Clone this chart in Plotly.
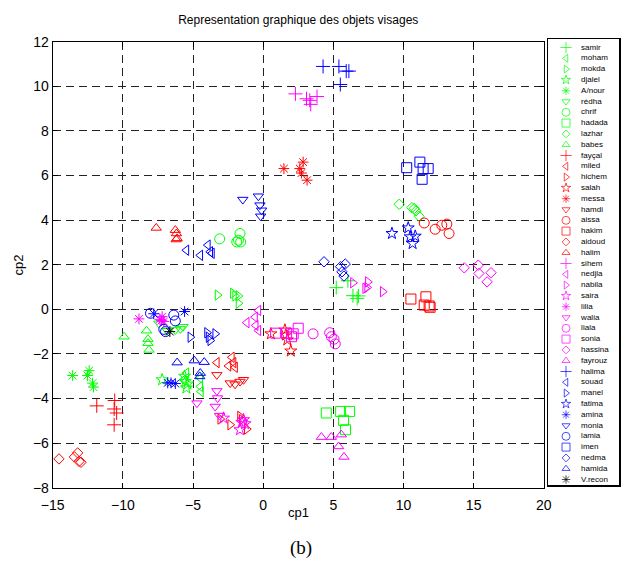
import plotly.graph_objects as go

# ---------------- data (cp1, cp2) ----------------
names = ["samir", "moham", "mokda", "djalel", "A/nour", "rédha", "chrif", "hadada", "lazhar", "babes",
         "fayçal", "miled", "hichem", "salah", "messa", "hamdi", "aissa", "hakim", "aidoud", "halim",
         "sihem", "nedjla", "nabila", "saira", "lilia", "walia", "liala", "sonia", "hassina", "fayrouz",
         "halima", "souad", "manel", "fatima", "amina", "monia", "lamia", "imen", "nedma", "hamida",
         "V.recon"]

# green group
samir_cp1 = [5.21, 6.04, 6.40, 6.70, 6.79];        samir_cp2 = [0.97, 1.28, 0.61, 0.49, 0.60]
moham_cp1 = [-5.47, -5.66, -4.48, -4.48, -4.43];   moham_cp2 = [-2.86, -3.16, -3.09, -3.46, -3.69]
mokda_cp1 = [-3.25, -2.16, -2.00, -1.76, -1.76];   mokda_cp2 = [0.64, 0.72, 0.60, 0.60, 0.27]
djalel_cp1 = [-7.20, -5.60, -5.55, -5.47, -5.40];  djalel_cp2 = [-3.16, -3.00, -3.24, -3.53, -3.35]
anour_cp1 = [-13.58, -12.40, -12.52, -12.16, -12.09]; anour_cp2 = [-2.97, -2.75, -2.97, -3.31, -3.49]
redha_cp1 = [-7.43, -6.84, -6.26, -5.90, -5.71];   redha_cp2 = [-0.63, -0.96, -0.93, -0.88, -0.78]
chrif_cp1 = [-3.10, -1.65, -1.88, -1.76, -1.60];   chrif_cp2 = [3.16, 3.40, 3.02, 3.10, 3.02]
hadada_cp1 = [4.50, 5.52, 6.16, 5.73, 5.87];       hadada_cp2 = [-4.65, -4.58, -4.58, -4.98, -5.40]
lazhar_cp1 = [9.70, 10.60, 10.77, 10.89, 11.12];   lazhar_cp2 = [4.71, 4.56, 4.52, 4.41, 4.17]
babes_cp1 = [-9.91, -8.31, -8.21, -8.21, -8.14];   babes_cp2 = [-1.23, -0.96, -1.34, -1.52, -1.82]
# red group
faycal_cp1 = [-11.86, -10.58, -10.62, -10.44, -10.62]; faycal_cp2 = [-4.33, -4.09, -4.47, -4.65, -5.18]
miled_cp1 = [-3.30, -2.47, -2.23, -2.11, -2.00];   miled_cp2 = [-2.39, -2.54, -2.15, -2.39, -2.60]
hichem_cp1 = [-3.06, -2.35, -1.65, -1.52, -1.17];  hichem_cp2 = [-4.92, -5.18, -4.80, -4.95, -5.37]
salah_cp1 = [0.55, 1.55, 1.62, 1.72, 1.97];        salah_cp2 = [-1.10, -0.93, -1.15, -1.37, -1.87]
messa_cp1 = [1.48, 2.85, 2.61, 2.73, 3.13];        messa_cp2 = [6.31, 6.60, 6.31, 6.11, 5.79]
hamdi_cp1 = [-3.30, -2.35, -2.00, -1.65, -1.40];   hamdi_cp2 = [-2.94, -3.31, -3.36, -3.24, -3.16]
aissa_cp1 = [11.48, 12.26, 12.73, 13.09, 13.25];   aissa_cp2 = [3.87, 3.59, 3.77, 3.82, 3.40]
hakim_cp1 = [10.53, 11.60, 11.48, 11.83, 11.90];   hakim_cp2 = [0.46, 0.56, 0.19, 0.15, 0.09]
aidoud_cp1 = [-14.55, -13.45, -13.22, -13.12, -12.98]; aidoud_cp2 = [-6.71, -6.62, -6.44, -6.82, -6.86]
halim_cp1 = [-7.62, -6.26, -6.18, -6.13, -6.20];   halim_cp2 = [3.65, 3.55, 3.40, 3.18, 3.13]
# magenta group
sihem_cp1 = [2.30, 3.09, 3.32, 3.39, 3.84];        sihem_cp2 = [9.66, 9.44, 9.37, 9.19, 9.54]
nedjla_cp1 = [-1.17, -0.34, -0.58, -0.53, -0.34];  nedjla_cp2 = [-0.60, -0.05, -0.35, -0.72, -0.95]
nabila_cp1 = [6.40, 7.46, 7.27, 7.41, 8.52];       nabila_cp2 = [1.19, 1.23, 0.94, 0.98, 0.79]
saira_cp1 = [-2.82, -1.52, -1.65, -1.40, -1.29];   saira_cp2 = [-4.88, -5.07, -5.40, -4.95, -5.13]
lilia_cp1 = [-8.85, -7.36, -7.25, -7.08, -7.20];   lilia_cp2 = [-0.43, -0.45, -0.51, -0.55, -0.33]
walia_cp1 = [-4.72, -3.30, -3.25, -3.42, -3.11];   walia_cp2 = [-4.21, -3.66, -3.98, -4.36, -4.77]
liala_cp1 = [3.56, 4.74, 4.86, 5.05, 5.14];        liala_cp2 = [-1.10, -1.05, -1.23, -1.34, -1.55]
sonia_cp1 = [0.89, 1.67, 2.14, 2.50, 2.02];        sonia_cp2 = [-1.07, -1.07, -1.10, -0.85, -1.23]
hassina_cp1 = [14.33, 15.33, 15.38, 15.96, 16.24]; hassina_cp2 = [1.86, 1.98, 1.61, 1.23, 1.64]
fayrouz_cp1 = [4.15, 4.86, 5.57, 5.38, 5.76];      fayrouz_cp2 = [-5.73, -5.73, -5.62, -6.15, -6.62]
# blue group
halima_cp1 = [4.27, 5.40, 5.92, 6.11, 5.50];       halima_cp2 = [10.89, 10.89, 10.68, 10.68, 10.08]
souad_cp1 = [-5.47, -4.48, -3.94, -3.77, -3.65];   souad_cp2 = [2.65, 2.42, 2.88, 2.58, 2.51]
manel_cp1 = [-5.19, -4.00, -3.89, -3.77, -3.42];   manel_cp2 = [-1.25, -1.05, -1.25, -1.40, -1.10]
fatima_cp1 = [9.18, 10.34, 10.48, 10.84, 10.65];   fatima_cp2 = [3.40, 3.65, 3.25, 3.28, 2.95]
amina_cp1 = [-7.80, -5.60, -6.80, -6.57, -6.26];   amina_cp2 = [-0.20, -0.10, -3.30, -3.30, -3.33]
monia_cp1 = [-1.45, -0.34, -0.23, -0.11, -0.18];   monia_cp2 = [4.92, 5.07, 4.67, 4.44, 4.17]
lamia_cp1 = [-8.03, -7.08, -6.37, -6.26, -6.96];   lamia_cp2 = [-0.18, -0.90, -0.26, -0.52, -1.00]
imen_cp1 = [10.23, 11.17, 11.40, 11.76, 11.33];    imen_cp2 = [6.35, 6.60, 6.31, 6.31, 5.83]
nedma_cp1 = [4.34, 5.52, 5.85, 5.62, 5.76];        nedma_cp2 = [2.13, 1.91, 2.03, 1.68, 1.49]
hamida_cp1 = [-6.13, -4.91, -4.20, -4.48, -4.52];  hamida_cp2 = [-2.39, -2.30, -2.37, -2.86, -3.01]
# reconstructed vector
vrecon_cp1 = [-6.65];                              vrecon_cp2 = [-1.00]

x_ticks = [-15, -10, -5, 0, 5, 10, 15, 20]
y_ticks = [-8, -6, -4, -2, 0, 2, 4, 6, 8, 10, 12]

series = [
    (samir_cp1, samir_cp2), (moham_cp1, moham_cp2), (mokda_cp1, mokda_cp2), (djalel_cp1, djalel_cp2),
    (anour_cp1, anour_cp2), (redha_cp1, redha_cp2), (chrif_cp1, chrif_cp2), (hadada_cp1, hadada_cp2),
    (lazhar_cp1, lazhar_cp2), (babes_cp1, babes_cp2),
    (faycal_cp1, faycal_cp2), (miled_cp1, miled_cp2), (hichem_cp1, hichem_cp2), (salah_cp1, salah_cp2),
    (messa_cp1, messa_cp2), (hamdi_cp1, hamdi_cp2), (aissa_cp1, aissa_cp2), (hakim_cp1, hakim_cp2),
    (aidoud_cp1, aidoud_cp2), (halim_cp1, halim_cp2),
    (sihem_cp1, sihem_cp2), (nedjla_cp1, nedjla_cp2), (nabila_cp1, nabila_cp2), (saira_cp1, saira_cp2),
    (lilia_cp1, lilia_cp2), (walia_cp1, walia_cp2), (liala_cp1, liala_cp2), (sonia_cp1, sonia_cp2),
    (hassina_cp1, hassina_cp2), (fayrouz_cp1, fayrouz_cp2),
    (halima_cp1, halima_cp2), (souad_cp1, souad_cp2), (manel_cp1, manel_cp2), (fatima_cp1, fatima_cp2),
    (amina_cp1, amina_cp2), (monia_cp1, monia_cp2), (lamia_cp1, lamia_cp2), (imen_cp1, imen_cp2),
    (nedma_cp1, nedma_cp2), (hamida_cp1, hamida_cp2),
    (vrecon_cp1, vrecon_cp2),
]

# ---------------- styles ----------------
group_colors = ["#00ff00", "#ff0000", "#ff00ff", "#0000ff"]
symbol_cycle = ["cross-thin-open", "triangle-left-open", "triangle-right-open", "star-open",
                "asterisk-open", "triangle-down-open", "circle-open", "square-open",
                "diamond-open", "triangle-up-open"]
size_cycle = [10, 9, 9, 9, 9, 9, 10, 10, 8, 9]

colors, symbols, sizes = [], [], []
for i in range(len(names) - 1):
    colors.append(group_colors[i // 10])
    symbols.append(symbol_cycle[i % 10])
    sizes.append(size_cycle[i % 10])
colors.append("#000000"); symbols.append("asterisk-open"); sizes.append(9)

FONT = "Liberation Sans, Arial, sans-serif"

fig = go.Figure()
for (xs, ys), nm, c, s, sz in zip(series, names, colors, symbols, sizes):
    fig.add_trace(go.Scatter(
        x=xs, y=ys, mode="markers", name=nm, showlegend=False,
        marker=dict(symbol=s, size=sz, color=c, line=dict(color=c, width=1)),
        xaxis="x", yaxis="y"))

# ---------------- hand-built legend box (MATLAB style) ----------------
W, H = 629, 570
ml, mr, mt, mb = 52, 1, 36, 82
pw = W - ml - mr          # paper spans x 52..628
ph = H - mt - mb          # paper spans y 36..488
leg_top, leg_bot = 39, 486

n = len(names)
leg_step = 10.8
leg_y = [8.5 + leg_step * i for i in range(n)]   # offset (px) from legend top
leg_sizes = [max(sz - 2, 6) for sz in sizes]
fig.add_trace(go.Scatter(
    x=[0.25] * n, y=leg_y, mode="markers", showlegend=False, hoverinfo="skip",
    marker=dict(symbol=symbols, size=leg_sizes, color=colors, line=dict(color=colors, width=1)),
    xaxis="x2", yaxis="y2"))
fig.add_trace(go.Scatter(
    x=[0.46] * n, y=leg_y, mode="text", text=names, textposition="middle right",
    textfont=dict(family=FONT, size=8, color="#000"), showlegend=False, hoverinfo="skip",
    xaxis="x2", yaxis="y2"))

main_x_dom = [(52.7 - ml) / pw, (550.7 - ml) / pw]
main_y_dom = [(mt + ph - 487.7) / ph, (mt + ph - 41.7) / ph]
leg_x_dom = [(555 - ml) / pw, 1.0]
leg_y_dom = [(mt + ph - leg_bot) / ph, (mt + ph - leg_top) / ph]
xc = (main_x_dom[0] + main_x_dom[1]) / 2

fig.update_layout(
    width=W, height=H,
    margin=dict(l=ml, r=mr, t=mt, b=mb),
    paper_bgcolor="white", plot_bgcolor="white",
    font=dict(family=FONT, color="#000"),
    xaxis=dict(domain=main_x_dom, range=[-15, 20], tickvals=x_ticks,
               showgrid=True, gridcolor="#222", griddash="8px,5px", gridwidth=1,
               zeroline=False, showline=True, linecolor="#000", linewidth=1, mirror="allticks",
               ticks="inside", ticklen=5, tickcolor="#000", tickfont=dict(size=14),
               ticklabelstandoff=4),
    yaxis=dict(domain=main_y_dom, range=[-8, 12], tickvals=y_ticks,
               showgrid=True, gridcolor="#222", griddash="8px,5px", gridwidth=1,
               zeroline=False, showline=True, linecolor="#000", linewidth=1, mirror="allticks",
               ticks="inside", ticklen=5, tickcolor="#000", tickfont=dict(size=14)),
    xaxis2=dict(domain=leg_x_dom, range=[0, 1], anchor="y2", showgrid=False, zeroline=False,
                showticklabels=False, ticks="", showline=True, linecolor="#000", linewidth=1,
                mirror=True, fixedrange=True),
    yaxis2=dict(domain=leg_y_dom, range=[leg_bot - leg_top, 0], anchor="x2", showgrid=False,
                zeroline=False, showticklabels=False, ticks="", showline=True, linecolor="#000",
                linewidth=1, mirror=True, fixedrange=True),
    shapes=[
        dict(type="line", xref="x2 domain", yref="y2 domain", x0=1, x1=1, y0=0, y1=1,
             line=dict(color="#000", width=2)),
        dict(type="line", xref="x2 domain", yref="y2 domain", x0=0, x1=1, y0=0, y1=0,
             line=dict(color="#000", width=2)),
    ],
    title=dict(text="Representation graphique des objets visages", x=xc,
               xref="paper", xanchor="center", y=1 - 20 / H, yref="container", yanchor="middle",
               font=dict(family=FONT, size=12, color="#000")),
    annotations=[
        dict(text="cp1", x=xc, xref="paper", y=-(512 - mt - ph) / ph, yref="paper",
             showarrow=False, xanchor="center", yanchor="middle", font=dict(size=13)),
        dict(text="cp2", x=(18 - ml) / pw, xref="paper", y=(mt + ph - 265) / ph, yref="paper",
             showarrow=False, xanchor="center", yanchor="middle", textangle=-90, font=dict(size=13)),
        dict(text="(b)", x=(304 - ml) / pw, xref="paper", y=-(548 - mt - ph) / ph, yref="paper",
             showarrow=False, xanchor="center", yanchor="middle",
             font=dict(family="Liberation Serif, Times New Roman, serif", size=19)),
    ],
)

fig.write_html("out.html", config={"displayModeBar": False},
               post_script="document.body.style.margin='0';document.body.style.overflow='hidden';")
